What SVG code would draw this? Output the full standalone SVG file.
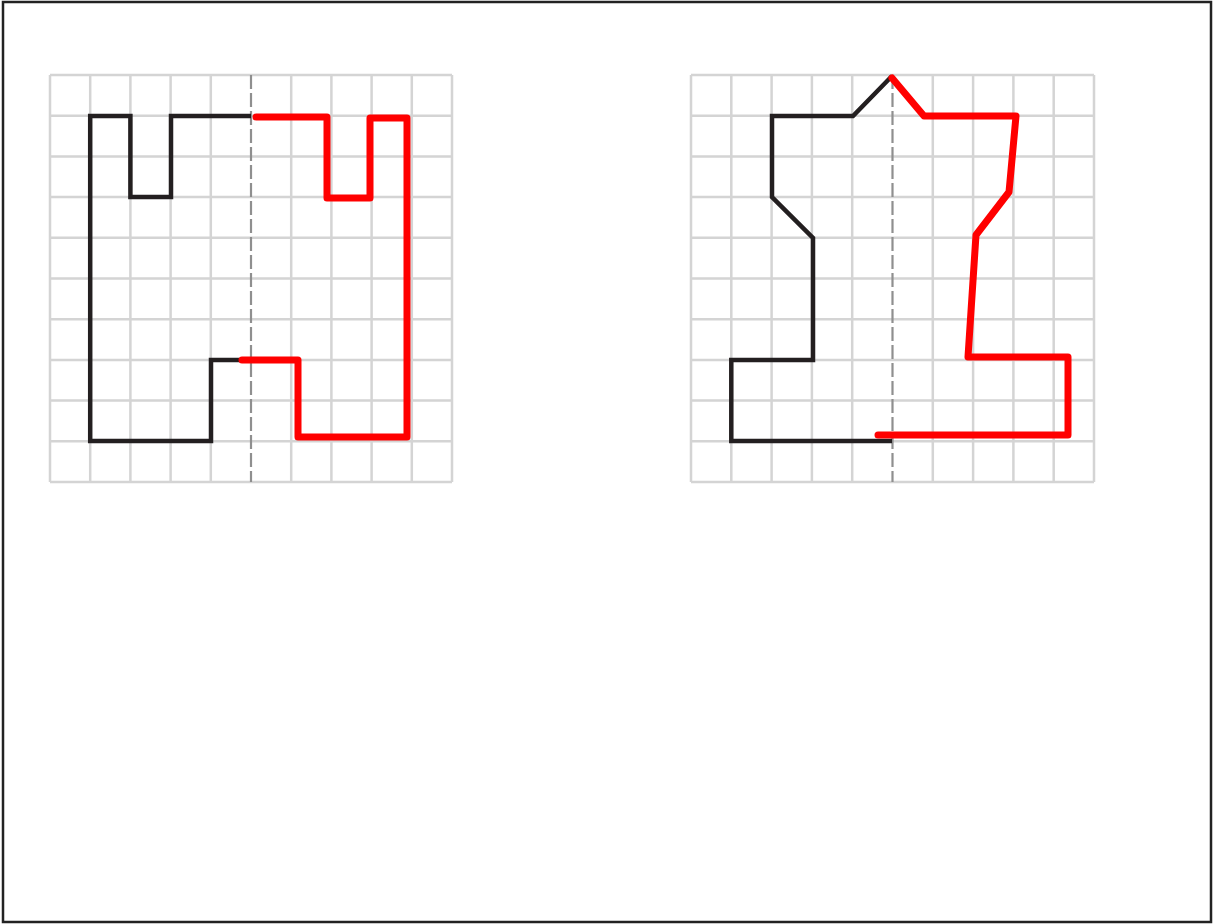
<svg xmlns="http://www.w3.org/2000/svg" width="1213" height="924" viewBox="0 0 1213 924">
<defs>
<style>
.grid{stroke:#d4d4d4;stroke-width:2.5;fill:none}
.axis{stroke:#8f8f8f;stroke-width:2.2;stroke-dasharray:14 4;fill:none}
.blk{stroke:#231f20;stroke-width:4.5;fill:none;stroke-linejoin:miter;stroke-linecap:butt}
.red{stroke:#ff0000;stroke-width:7;fill:none;stroke-linejoin:round;stroke-linecap:round}
</style>
</defs>
<rect x="0" y="0" width="1213" height="924" fill="#fff"/>
<rect x="3" y="2" width="1208" height="920" fill="none" stroke="#222" stroke-width="2.5"/>
<g id="grid-left">
<path class="grid" d="M50 75V482M90.2 75V482M130.4 75V482M170.6 75V482M210.8 75V482M291.2 75V482M331.4 75V482M371.6 75V482M411.8 75V482M452 75V482M50 75H452M50 115.7H452M50 156.4H452M50 197.1H452M50 237.8H452M50 278.5H452M50 319.2H452M50 359.9H452M50 400.6H452M50 441.3H452M50 482H452"/>
<path class="axis" d="M251 75V482"/>
</g>
<g id="grid-right">
<path class="grid" d="M691 75V482M731.3 75V482M771.6 75V482M811.9 75V482M852.2 75V482M932.8 75V482M973.1 75V482M1013.4 75V482M1053.7 75V482M1094 75V482M691 75H1094M691 115.7H1094M691 156.4H1094M691 197.1H1094M691 237.8H1094M691 278.5H1094M691 319.2H1094M691 359.9H1094M691 400.6H1094M691 441.3H1094M691 482H1094"/>
<path class="axis" d="M892.5 75V482"/>
</g>
<g id="shape-left">
<path class="blk" d="M251 116H171V197H130.4V116H90.2V441H211V360H240"/>
<path class="red" d="M256 117H327V198H370V118H407V437H298V360H242"/>
</g>
<g id="shape-right">
<path class="blk" d="M892 76L853 116H772V197L813 238V360H731.3V441H892"/>
<path class="red" d="M892 78L924 116H1016L1009 192L976 235L968 357H1068V435H878"/>
</g>
</svg>
